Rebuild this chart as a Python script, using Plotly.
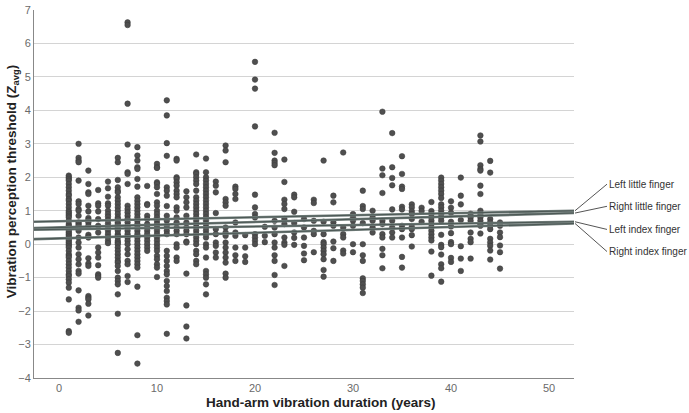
import plotly.graph_objects as go

# ---- data: vibration perception threshold by exposure duration (years) ----
durations = list(range(1, 46))
col_values = {
    1: [2.05, 2.0, 1.95, 1.9, 1.8, 1.7, 1.6, 1.5, 1.45, 1.35, 1.3, 1.2, 1.1, 1.0, 0.95, 0.9, 0.85, 0.8,
        0.7, 0.6, 0.55, 0.5, 0.45, 0.4, 0.35, 0.3, 0.25, 0.2, 0.15, 0.1, 0.05, 0.0, -0.05, -0.1, -0.2,
        -0.3, -0.35, -0.4, -0.5, -0.6, -0.7, -0.8, -0.9, -0.95, -1.05, -1.15, -1.3, -1.65, -2.6, -2.65],
    2: [3.0, 2.58, 2.5, 2.45, 1.9, 1.28, 1.2, 1.05, 1.0, 0.85, 0.65, 0.6, 0.55, 0.4, 0.2, 0.05, -0.1,
        -0.3, -0.45, -0.6, -0.8, -0.88, -1.38, -1.9, -1.98, -2.32],
    3: [2.2, 1.8, 1.55, 1.5, 1.15, 0.98, 0.78, 0.72, 0.65, 0.55, 0.28, 0.22, 0.2, -0.42, -0.58, -0.65,
        -1.55, -1.6, -1.65, -1.78, -2.13],
    4: [1.62, 1.22, 1.15, 0.98, 0.75, 0.55, 0.35, -0.1, -0.25, -0.4, -0.63, -0.9, -0.95, -1.0],
    5: [1.87, 1.67, 1.42, 1.22, 1.15, 1.0, 0.9, 0.82, 0.72, 0.62, 0.52, 0.4, 0.3, 0.2, 0.1, 0.03],
    6: [2.58, 2.45, 1.92, 1.7, 1.6, 1.55, 1.4, 1.3, 1.2, 1.1, 1.0, 0.9, 0.8, 0.75, 0.65, 0.6, 0.5,
        0.45, 0.4, 0.3, 0.25, 0.2, 0.1, 0.05, 0.0, -0.1, -0.2, -0.3, -0.4, -0.5, -0.55, -0.65, -0.8,
        -1.0, -1.1, -1.2, -1.5, -2.08, -3.25],
    7: [6.63, 6.55, 4.2, 2.98, 2.15, 2.1, 1.8, 1.15, 1.05, 0.95, 0.85, 0.75, 0.65, 0.55, 0.5, 0.4,
        0.3, 0.2, 0.1, 0.0, -0.15, -0.3, -0.5, -0.6, -0.95, -1.13],
    8: [2.9, 2.65, 2.5, 2.3, 2.25, 1.95, 1.72, 1.4, 1.3, 1.2, 1.1, 1.0, 0.9, 0.8, 0.7, 0.6, 0.5, 0.4,
        0.3, 0.2, 0.1, 0.0, -0.1, -0.2, -0.3, -0.4, -0.5, -0.6, -0.7, -1.27, -2.72, -3.57],
    9: [1.74, 1.2, 1.17, 0.85, 0.75, 0.6, 0.5, 0.4, 0.3, 0.2, 0.1, 0.0, -0.1, -0.2],
    10: [2.4, 2.3, 2.28, 1.85, 1.8, 1.7, 1.5, 1.25, 1.15, 1.0, 0.9, 0.8, 0.7, 0.6, 0.5, 0.4, 0.3, 0.2,
         0.1, 0.0, -0.1, -0.2, -0.35, -0.45, -0.6, -0.7, -0.98],
    11: [4.3, 3.85, 3.02, 2.64, 1.7, 1.6, 1.45, 1.14, 0.85, 0.7, 0.55, 0.4, 0.3, -0.2, -0.35, -0.5,
         -0.65, -0.8, -0.9, -1.1, -1.25, -1.4, -1.6, -1.7, -1.8, -2.68],
    12: [2.55, 2.5, 2.0, 1.95, 1.85, 1.75, 1.6, 1.5, 1.4, 1.1, 1.0, 0.8, 0.65, 0.5, 0.4, 0.3, 0.0,
         -0.1, -0.4, -0.5],
    13: [1.58, 1.4, 1.25, 1.1, 0.85, 0.65, 0.5, 0.4, 0.3, 0.08, 0.05, -0.88, -1.83, -2.46, -2.82],
    14: [2.68, 2.15, 2.1, 2.0, 1.9, 1.8, 1.6, 1.4, 1.3, 1.2, 1.1, 1.0, 0.9, 0.8, 0.7, 0.6, 0.5, 0.4,
         0.3, 0.2, 0.1, 0.0, -0.2, -0.3, -0.5, -0.6],
    15: [2.56, 2.15, 2.0, 1.9, 1.8, 1.7, 1.6, 1.5, 1.4, 1.3, 1.2, 1.1, 1.0, 0.9, 0.8, 0.7, 0.6, 0.5,
         0.4, 0.3, 0.2, 0.0, -0.1, -0.4, -0.8, -0.9, -1.0, -1.2, -1.5],
    16: [1.87, 1.75, 1.55, 0.93, 0.45, 0.3, 0.05, -0.05, -0.25, -0.4],
    17: [2.95, 2.8, 2.45, 1.35, 1.25, 1.15, 0.5, 0.35, 0.25, 0.05, -0.1, -0.25, -0.4, -0.55, -0.88, -1.0],
    18: [1.72, 1.65, 1.5, 1.35, 0.65, 0.35, 0.25, -0.1, -0.33, -0.5],
    19: [0.27, -0.1, -0.36, -0.53],
    20: [5.45, 4.92, 4.65, 3.52, 1.48, 1.1, 0.9, 0.8, 0.3, 0.2, 0.1, 0.0],
    21: [0.52, 0.25, 0.06],
    22: [3.33, 2.73, 2.5, 2.43, 2.36, 0.7, 0.5, 0.3, 0.05, -0.1, -0.33, -0.5, -0.92, -1.22],
    23: [2.53, 1.86, 1.33, 1.2, 1.05, 0.75, 0.6, 0.2, 0.05, -0.02, -0.65],
    24: [1.48, 1.4, 0.97, 0.63, 0.35, 0.19, -0.02],
    25: [0.75, 0.5, 0.2, -0.05, -0.28, -0.48],
    26: [1.33, 1.23, 0.7, 0.4, 0.3, -0.24],
    27: [2.5, 0.67, 0.3, 0.06, 0.0, -0.1, -0.2, -0.3, -0.45, -0.77, -0.97],
    28: [1.45, 1.25, 0.65, 0.55, 0.08, -0.12, -0.5],
    29: [2.74, 0.5, 0.3, 0.2, -0.19, -0.28],
    30: [0.9, 0.8, 0.7, 0.55, 0.0, -0.24],
    31: [1.6, 1.14, 1.05, 0.63, 0.0, -0.33, -0.5, -1.02, -1.1, -1.2, -1.3, -1.46],
    32: [1.0, 0.8, 0.7, 0.5, 0.35],
    33: [3.96, 2.26, 2.06, 1.53, 0.7, 0.6, 0.3, 0.2, -0.14, -0.33, -0.72],
    34: [3.32, 2.3, 1.98, 1.76, 1.04, 0.7, 0.5, 0.35, 0.2],
    35: [2.63, 2.1, 1.72, 1.65, 1.12, 1.04, 0.55, 0.45, 0.2, -0.38, -0.7],
    36: [1.19, 1.1, 0.98, 0.9, 0.75, 0.52, 0.45, 0.27, -0.07],
    37: [1.09, 0.99, 0.67],
    38: [1.26, 0.99, 0.9, 0.8, 0.7, 0.6, 0.5, 0.4, 0.3, 0.2, 0.11, -0.22, -0.94],
    39: [1.99, 1.9, 1.8, 1.7, 1.6, 1.5, 1.38, 1.19, 1.1, 1.0, 0.9, 0.8, 0.7, 0.28, -0.02, -0.09,
         -0.31, -0.6, -0.72, -1.12],
    40: [1.28, 1.09, 0.94, 0.67, 0.53, 0.33, 0.06, 0.0, -0.41, -0.53],
    41: [1.99, 1.45, 1.19, 0.72, -0.06, -0.43, -0.8],
    42: [0.91, 0.8, 0.7, 0.35, 0.16, 0.06, -0.43],
    43: [3.25, 3.07, 2.36, 2.25, 2.2, 1.75, 1.5, 1.0, 0.9, 0.8, 0.7, 0.6, 0.55, 0.32],
    44: [2.49, 2.14, 0.75, 0.65, 0.55, 0.45, 0.16, 0.05, -0.05, -0.19, -0.46],
    45: [0.65, 0.55, 0.35, 0.21, -0.04, -0.24, -0.73],
}

# fitted regression lines (intercept at 0 years, slope per year)
fit_names = ["Left little finger", "Right little finger", "Left index finger", "Right index finger"]
fit_intercepts = [0.685, 0.501, 0.441, 0.172]
fit_slopes = [0.00599, 0.00817, 0.00436, 0.00853]

x_ticks = [0, 10, 20, 30, 40, 50]
y_ticks = [-4, -3, -2, -1, 0, 1, 2, 3, 4, 5, 6, 7]
x_range = [-2.55, 52.55]
y_range = [-4, 7]

# ---- build ----
xs, ys = [], []
for d in durations:
    vals = col_values.get(d, [])
    xs.extend([d] * len(vals))
    ys.extend(vals)

FONT = "Arial, Liberation Sans, sans-serif"
fig = go.Figure()
fig.add_trace(go.Scatter(
    x=xs, y=ys, mode="markers",
    marker=dict(size=5.6, color="#4f4f4f", line=dict(color="#3a3a3a", width=0.5)),
    showlegend=False, hoverinfo="skip"))

for name, b0, b1 in zip(fit_names, fit_intercepts, fit_slopes):
    lx = [x_range[0], x_range[1]]
    ly = [b0 + b1 * v for v in lx]
    fig.add_trace(go.Scatter(x=lx, y=ly, mode="lines",
                             line=dict(color="#75817e", width=2.6),
                             showlegend=False, hoverinfo="skip"))
    fig.add_trace(go.Scatter(x=lx, y=ly, mode="lines",
                             line=dict(color="#4c5855", width=1.1),
                             showlegend=False, hoverinfo="skip", name=name))

# plot area geometry (px)
W, H = 689, 413
L, R, T, B = 34, 115, 4, 35
pw, ph = W - L - R, H - T - B

def px_to_paper_x(px):
    return (px - L) / pw

def py_to_paper_y(py):
    return (H - B - py) / ph

label_py = [181, 203.5, 227, 249.5]
for name, b0, b1, lpy in zip(fit_names, fit_intercepts, fit_slopes, label_py):
    end_val = b0 + b1 * x_range[1]
    y_start = (end_val - y_range[0]) / (y_range[1] - y_range[0])
    fig.add_shape(type="line", xref="paper", yref="paper",
                  x0=px_to_paper_x(575), y0=y_start,
                  x1=px_to_paper_x(607), y1=py_to_paper_y(lpy),
                  line=dict(color="#555555", width=1))
    fig.add_annotation(text=name, xref="paper", yref="paper",
                       x=px_to_paper_x(608), y=py_to_paper_y(lpy),
                       xanchor="left", yanchor="middle", showarrow=False, borderpad=0,
                       font=dict(family=FONT, size=10, color="#333333"))

fig.add_annotation(text="Vibration perception threshold (Z<sub>avg</sub>)",
                   xref="paper", yref="paper", x=px_to_paper_x(12), y=py_to_paper_y(178),
                   textangle=-90, xanchor="center", yanchor="middle", showarrow=False,
                   font=dict(family=FONT, size=13.5, color="#222222", weight="bold"))
fig.add_annotation(text="Hand-arm vibration duration (years)",
                   xref="paper", yref="paper", x=px_to_paper_x(321), y=py_to_paper_y(403),
                   xanchor="center", yanchor="middle", showarrow=False,
                   font=dict(family=FONT, size=13.5, color="#222222", weight="bold"))

fig.update_layout(
    width=W, height=H,
    margin=dict(l=L, r=R, t=T, b=B, pad=0),
    plot_bgcolor="white", paper_bgcolor="white",
    font=dict(family=FONT, size=11, color="#666666"),
    xaxis=dict(range=x_range, tickvals=x_ticks, showgrid=False, zeroline=False,
               showline=True, linecolor="#888888", linewidth=1, ticks="",
               tickfont=dict(size=11, color="#6a6a6a")),
    yaxis=dict(range=y_range, tickvals=y_ticks, showgrid=True, gridcolor="#d4d4d4",
               gridwidth=1, zeroline=False, showline=True, linecolor="#888888",
               linewidth=1, ticks="", ticklabeloverflow="allow",
               tickfont=dict(size=11, color="#6a6a6a")),
)

fig.write_html("out.html", config={"displayModeBar": False},
               post_script="document.body.style.margin='0';document.body.style.padding='0';")
